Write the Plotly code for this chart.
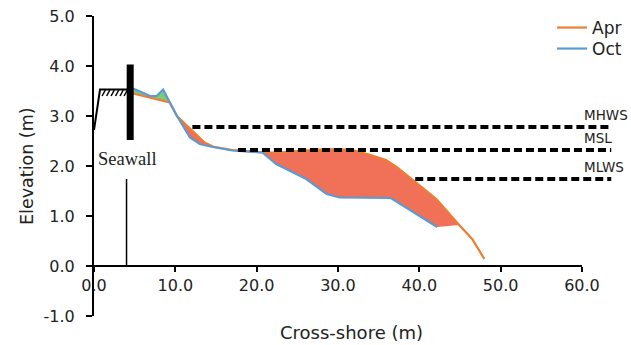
import plotly.graph_objects as go

# Beach profiles (cross-shore distance in m, elevation in m)
apr_x = [4.8, 9.3, 10.2, 13.6, 14.6, 17.0, 20.7, 22.8, 25.0, 27.7, 30.0, 31.8,
         34.0, 35.9, 37.2, 39.2, 42.1, 44.9, 46.5, 48.0]
apr_y = [3.45, 3.27, 3.00, 2.47, 2.39, 2.32, 2.27, 2.27, 2.30, 2.33, 2.34, 2.32,
         2.22, 2.12, 1.98, 1.72, 1.34, 0.82, 0.54, 0.14]

oct_x = [4.8, 6.9, 7.7, 8.5, 10.2, 11.8, 13.0, 14.6, 17.0, 20.7, 22.4, 24.9,
         26.1, 28.6, 30.2, 36.5, 42.2]
oct_y = [3.55, 3.40, 3.40, 3.53, 3.00, 2.57, 2.44, 2.38, 2.31, 2.27, 2.04, 1.84,
         1.74, 1.44, 1.37, 1.36, 0.78]

# Point where the two surveys cross (accretion landward, erosion seaward)
cross_x = 10.2

# Tidal levels
level_names = ["MHWS", "MSL", "MLWS"]
level_values = [2.78, 2.32, 1.74]
level_start = [12.1, 17.7, 39.5]
level_end = 63.6

# Seawall and crest structure geometry
crest_x = [0.0, 0.74, 4.2]
crest_y = [2.72, 3.53, 3.53]
wall_x = 4.45
wall_bottom, wall_top = 2.52, 4.03
pile_x = 4.0
pile_top = 1.74
hatch_start = [1.0, 1.55, 2.1, 2.65, 3.2, 3.7]

x_ticks = [0, 10, 20, 30, 40, 50, 60]
y_ticks = [-1, 0, 1, 2, 3, 4, 5]

ORANGE = "#ED7D31"
BLUE = "#5B9BD5"
RED_FILL = "#F07157"
GREEN_FILL = "#7FC97A"
FONT = "DejaVu Sans"
TEXT = "#222"

fig = go.Figure()


def segment(xs, ys, lo, hi):
    pts = [(x, y) for x, y in zip(xs, ys) if lo <= x <= hi]
    return [p[0] for p in pts], [p[1] for p in pts]


# Accretion (Oct above Apr) landward of the crossing
ox, oy = segment(oct_x, oct_y, 0, cross_x)
ax_, ay_ = segment(apr_x, apr_y, 0, cross_x)
fig.add_trace(go.Scatter(x=ox + ax_[::-1], y=oy + ay_[::-1], fill="toself",
                         fillcolor=GREEN_FILL, line=dict(width=0),
                         mode="lines", showlegend=False, hoverinfo="skip"))

# Erosion (Apr above Oct) seaward of the crossing
ox, oy = segment(oct_x, oct_y, cross_x, 100)
ax_, ay_ = segment(apr_x, apr_y, cross_x, 44.9)
fig.add_trace(go.Scatter(x=ax_ + ox[::-1], y=ay_ + oy[::-1], fill="toself",
                         fillcolor=RED_FILL, line=dict(width=0),
                         mode="lines", showlegend=False, hoverinfo="skip"))

# Survey lines, each with its own legend box
fig.add_trace(go.Scatter(x=apr_x, y=apr_y, mode="lines", name="Apr",
                         line=dict(color=ORANGE, width=2.2), legend="legend"))
fig.add_trace(go.Scatter(x=oct_x, y=oct_y, mode="lines", name="Oct",
                         line=dict(color=BLUE, width=2.2), legend="legend2"))

# Tidal level lines
for name, val, start in zip(level_names, level_values, level_start):
    fig.add_trace(go.Scatter(x=[start, level_end], y=[val, val], mode="lines",
                             line=dict(color="black", width=4, dash="8px,4px"),
                             showlegend=False, hoverinfo="skip"))
    fig.add_annotation(x=60.0, y=val, xref="x", yref="y", text=name,
                       showarrow=False, xanchor="left", yanchor="middle",
                       yshift=12, font=dict(family=FONT, size=13.5, color=TEXT))

# Crest, hatching, seawall and pile
fig.add_trace(go.Scatter(x=crest_x, y=crest_y, mode="lines",
                         line=dict(color="black", width=2),
                         showlegend=False, hoverinfo="skip"))
hx, hy = [], []
for h in hatch_start:
    hx += [h, h + 0.4, None]
    hy += [3.40, 3.52, None]
fig.add_trace(go.Scatter(x=hx, y=hy, mode="lines",
                         line=dict(color="black", width=1.5),
                         showlegend=False, hoverinfo="skip"))
fig.add_trace(go.Scatter(x=[wall_x, wall_x], y=[wall_bottom, wall_top],
                         mode="lines", line=dict(color="black", width=7),
                         showlegend=False, hoverinfo="skip"))
fig.add_trace(go.Scatter(x=[pile_x, pile_x], y=[0, pile_top], mode="lines",
                         line=dict(color="black", width=1.5),
                         showlegend=False, hoverinfo="skip"))
fig.add_annotation(x=4.1, y=2.14, xref="x", yref="y", text="Seawall",
                   showarrow=False, xanchor="center", yanchor="middle",
                   font=dict(family="Liberation Serif", size=18.5, color=TEXT))

# Horizontal axis line drawn at zero elevation, ending at 60 m
fig.add_shape(type="line", x0=0, x1=60, y0=0, y1=0, xref="x", yref="y",
              line=dict(color="black", width=2))

# Axis titles
fig.add_annotation(x=31.7, y=-1, xref="x", yref="y", yshift=-16,
                   text="Cross-shore (m)", showarrow=False,
                   xanchor="center", yanchor="middle",
                   font=dict(family=FONT, size=18, color=TEXT))
fig.add_annotation(x=0, y=0.5, xref="paper", yref="paper", xshift=-67,
                   text="Elevation (m)", textangle=-90, showarrow=False,
                   xanchor="center", yanchor="middle",
                   font=dict(family=FONT, size=17.5, color=TEXT))

legend_style = dict(xanchor="left", yanchor="top", bgcolor="rgba(0,0,0,0)",
                    itemwidth=30, font=dict(family=FONT, size=17, color=TEXT))

fig.update_layout(
    width=631, height=345,
    margin=dict(l=94, r=0, t=16, b=29),
    plot_bgcolor="white", paper_bgcolor="white",
    font=dict(family=FONT, size=16, color=TEXT),
    legend=dict(x=0.853, y=1.02, **legend_style),
    legend2=dict(x=0.853, y=0.95, **legend_style),
    xaxis=dict(range=[0, 66.03], tickvals=x_ticks,
               ticktext=[f"{v:.1f}" for v in x_ticks],
               anchor="free", position=1 / 6, showline=False,
               ticks="outside", ticklen=5, tickwidth=2, tickcolor="black",
               showgrid=False, zeroline=False,
               tickfont=dict(family=FONT, size=16, color=TEXT)),
    yaxis=dict(range=[-1, 5], tickvals=y_ticks,
               ticktext=[f"{v:.1f}" for v in y_ticks],
               showline=True, linewidth=2, linecolor="black",
               ticks="outside", ticklen=6, tickwidth=2, tickcolor="black",
               ticklabelstandoff=8,
               showgrid=False, zeroline=False,
               tickfont=dict(family=FONT, size=16, color=TEXT)),
)

fig.write_html("out.html")
